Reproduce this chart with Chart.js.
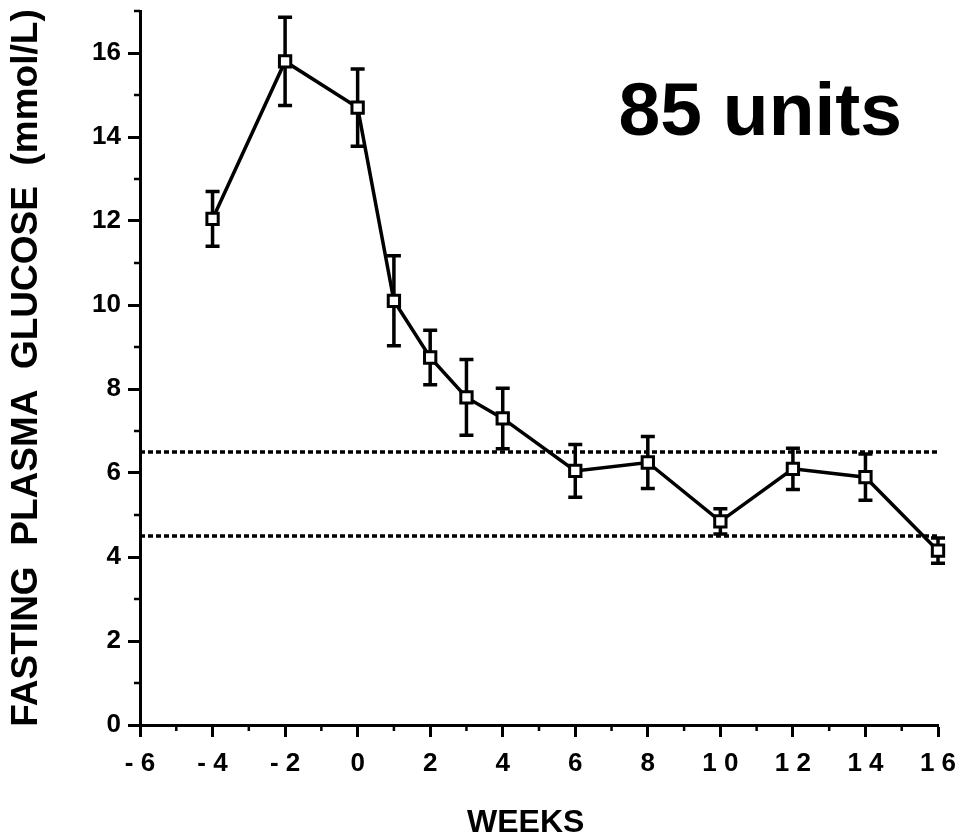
<!DOCTYPE html>
<html>
<head>
<meta charset="utf-8">
<title>Fasting plasma glucose</title>
<script src="https://cdn.jsdelivr.net/npm/chart.js@4.4.1/dist/chart.umd.min.js"></script>
<style>
  html, body { margin: 0; padding: 0; background: #fff; }
  #wrap { width: 962px; height: 840px; }
</style>
</head>
<body>
<div id="wrap"><canvas id="glucose-chart" width="962" height="840"></canvas></div>
<script>
// weeks of treatment, mean fasting glucose and error bar half-heights
const weeks = [-4, -2, 0, 1, 2, 3, 4, 6, 8, 10, 12, 14, 16];
const glucose = [12.05, 15.8, 14.7, 10.1, 8.75, 7.8, 7.3, 6.05, 6.25, 4.85, 6.1, 5.9, 4.15];
const sem = [0.65, 1.05, 0.92, 1.07, 0.65, 0.9, 0.72, 0.63, 0.62, 0.3, 0.49, 0.55, 0.3];

// normal fasting range shown as dotted lines
const normalRange = [4.5, 6.5];

const xTickValues = [-6, -4, -2, 0, 2, 4, 6, 8, 10, 12, 14, 16];
const xTickLabels = ['- 6', '- 4', '- 2', '0', '2', '4', '6', '8', '1 0', '1 2', '1 4', '1 6'];
const yTickValues = [0, 2, 4, 6, 8, 10, 12, 14, 16];
const yTickLabels = ['0', '2', '4', '6', '8', '10', '12', '14', '16'];

const doseLabel = '85 units';

const tickFont = {
  family: "'Liberation Sans Narrow', 'Arial Narrow', 'Liberation Sans', Arial, sans-serif",
  size: 26,
  weight: 'bold'
};
const titleFamily = "'Liberation Sans', Arial, Helvetica, sans-serif";

Chart.defaults.color = '#000';

// vertical error bars, drawn before the line so the open squares sit on top
const errorBars = {
  id: 'errorBars',
  beforeDatasetsDraw(chart) {
    const { ctx, scales: { x, y } } = chart;
    ctx.save();
    ctx.strokeStyle = '#000';
    ctx.lineWidth = 3.5;
    ctx.lineCap = 'butt';
    weeks.forEach((w, i) => {
      const px = x.getPixelForValue(w);
      const top = y.getPixelForValue(glucose[i] + sem[i]);
      const bottom = y.getPixelForValue(glucose[i] - sem[i]);
      ctx.beginPath();
      ctx.moveTo(px, top);
      ctx.lineTo(px, bottom);
      ctx.moveTo(px - 7, top);
      ctx.lineTo(px + 7, top);
      ctx.moveTo(px - 7, bottom);
      ctx.lineTo(px + 7, bottom);
      ctx.stroke();
    });
    ctx.restore();
  }
};

// short unlabelled ticks at the odd values on both axes
const minorTicks = {
  id: 'minorTicks',
  afterDraw(chart) {
    const { ctx, scales: { x, y } } = chart;
    ctx.save();
    ctx.strokeStyle = '#000';
    ctx.lineWidth = 2.5;
    ctx.beginPath();
    for (let v = x.min + 1; v < x.max; v += 2) {
      const px = x.getPixelForValue(v);
      ctx.moveTo(px, x.top);
      ctx.lineTo(px, x.top + 6);
    }
    for (let v = y.min + 1; v <= y.max; v += 2) {
      const py = y.getPixelForValue(v);
      ctx.moveTo(y.right, py);
      ctx.lineTo(y.right - 6, py);
    }
    ctx.stroke();
    ctx.restore();
  }
};

// dose label in the upper right of the plot
const doseText = {
  id: 'doseText',
  afterDraw(chart) {
    const { ctx, chartArea } = chart;
    ctx.save();
    ctx.fillStyle = '#000';
    ctx.font = 'bold 75px ' + titleFamily;
    ctx.textAlign = 'right';
    ctx.textBaseline = 'alphabetic';
    ctx.fillText(doseLabel, chartArea.right - 36, 135);
    ctx.restore();
  }
};

const ctx = document.getElementById('glucose-chart').getContext('2d');

new Chart(ctx, {
  type: 'scatter',
  data: {
    datasets: [
      {
        data: [{ x: -6, y: normalRange[1] }, { x: 16, y: normalRange[1] }],
        showLine: true,
        borderColor: '#000',
        borderWidth: 3.5,
        borderDash: [5, 3],
        pointRadius: 0
      },
      {
        data: [{ x: -6, y: normalRange[0] }, { x: 16, y: normalRange[0] }],
        showLine: true,
        borderColor: '#000',
        borderWidth: 3.5,
        borderDash: [5, 3],
        pointRadius: 0
      },
      {
        label: 'Fasting plasma glucose',
        data: weeks.map((w, i) => ({ x: w, y: glucose[i] })),
        showLine: true,
        clip: false,
        borderColor: '#000',
        borderWidth: 3.5,
        pointStyle: 'rect',
        pointRadius: 8,
        pointBorderWidth: 3,
        pointBorderColor: '#000',
        pointBackgroundColor: '#fff'
      }
    ]
  },
  options: {
    responsive: false,
    animation: false,
    layout: {
      padding: { top: 7.6, right: 24, left: 0, bottom: 0 }
    },
    plugins: {
      legend: { display: false },
      tooltip: { enabled: false }
    },
    scales: {
      x: {
        type: 'linear',
        min: -6,
        max: 16,
        afterFit: scale => {
          scale.height = 115;
          scale.paddingLeft = 0;
          scale.paddingRight = 0;
        },
        afterBuildTicks: scale => {
          scale.ticks = xTickValues.map(v => ({ value: v }));
        },
        ticks: {
          font: tickFont,
          color: '#000',
          padding: 11,
          maxRotation: 0,
          autoSkip: false,
          callback: value => xTickLabels[xTickValues.indexOf(value)]
        },
        grid: {
          display: true,
          drawOnChartArea: false,
          drawTicks: true,
          tickLength: 12,
          tickWidth: 3,
          tickColor: '#000'
        },
        border: { display: true, color: '#000', width: 3 },
        title: {
          display: true,
          text: 'WEEKS   ',
          color: '#000',
          font: { family: titleFamily, size: 32, weight: 'bold' },
          padding: { top: 0, bottom: -2 }
        }
      },
      y: {
        type: 'linear',
        min: 0,
        max: 17,
        afterFit: scale => {
          scale.width = 140;
          scale.paddingTop = 0;
          scale.paddingBottom = 0;
        },
        afterBuildTicks: scale => {
          scale.ticks = yTickValues.map(v => ({ value: v }));
        },
        ticks: {
          font: tickFont,
          color: '#000',
          padding: 7,
          autoSkip: false,
          callback: value => yTickLabels[yTickValues.indexOf(value)]
        },
        grid: {
          display: true,
          drawOnChartArea: false,
          drawTicks: true,
          tickLength: 12,
          tickWidth: 3,
          tickColor: '#000'
        },
        border: { display: true, color: '#000', width: 3 },
        title: {
          display: true,
          text: 'FASTING  PLASMA  GLUCOSE  (mmol/L)',
          color: '#000',
          font: { family: titleFamily, size: 37, weight: 'bold' },
          padding: { top: 5, bottom: 0 }
        }
      }
    }
  },
  plugins: [errorBars, minorTicks, doseText]
});
</script>
</body>
</html>
